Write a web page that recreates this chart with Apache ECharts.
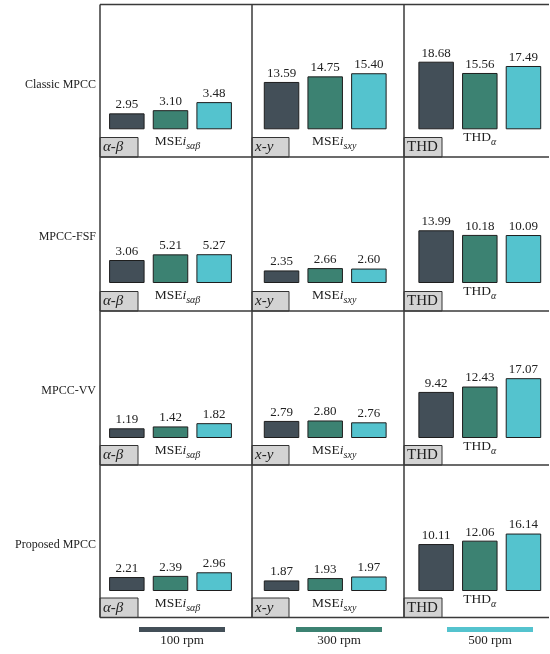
<!DOCTYPE html>
<html>
<head>
<meta charset="utf-8">
<script src="https://cdn.jsdelivr.net/npm/echarts@6/dist/echarts.min.js"></script>
<style>
  html, body { margin: 0; padding: 0; background: #fff; }
  #chart { width: 550px; height: 654px; }
</style>
</head>
<body>
<div id="chart"></div>
<script>
// Controllers compared in each row, motor speeds as series
const methods = ['Classic MPCC', 'MPCC-FSF', 'MPCC-VV', 'Proposed MPCC'];
const speeds = ['100 rpm', '300 rpm', '500 rpm'];
const frameTags = ['α-β', 'x-y', 'THD'];

// Per method: values at 100 / 300 / 500 rpm
const mseAlphaBeta = [[2.95, 3.10, 3.48], [3.06, 5.21, 5.27], [1.19, 1.42, 1.82], [2.21, 2.39, 2.96]];
const mseXY        = [[13.59, 14.75, 15.40], [2.35, 2.66, 2.60], [2.79, 2.80, 2.76], [1.87, 1.93, 1.97]];
const thdAlpha     = [[18.68, 15.56, 17.49], [13.99, 10.18, 10.09], [9.42, 12.43, 17.07], [10.11, 12.06, 16.14]];

// Value-axis extent of every panel [min, max], rows = methods, cols = metrics
const axisRange = [
  [[2.2, 7.7], [3.77, 28.0], [0, 32.27]],
  [[-5.68, 39.19], [0.667, 16.46], [-29.5, 67.86]],
  [[0, 14.6], [2.42, 5.0], [-16.2, 49.98]],
  [[0, 18.66], [1.6, 4.61], [-16.9, 50.96]]
];

const metricData = [mseAlphaBeta, mseXY, thdAlpha];
const metricRich = [
  '{m|MSE}{i|i}{s|sαβ}',
  '{m|MSE}{i|i}{s|sxy}',
  '{m|THD}{s|α}'
];

// Layout (pixels)
const FONT = "'Liberation Serif', 'DejaVu Serif', serif";
const colors = ['#434f58', '#3c8272', '#54c3ce'];
const rowTop = [4.5, 157, 311, 465];
const rowBottom = [157, 311, 465, 617.5];
const baseline = [129.3, 283, 438, 591];
const colLeft = [100, 252, 404];
const rightEdge = 549;
const groupLeft = [109, 263.7, 418.3];
const labelPad = [[0, 0, 0, 14], [0, 0, 0, 18], [0, 0, 0, 0]];
const labelMargin = [2, 2, -1.5];
const tagWidth = [38, 37, 38];

const grid = [], xAxis = [], yAxis = [], series = [];
for (let r = 0; r < methods.length; r++) {
  for (let c = 0; c < 3; c++) {
    const p = r * 3 + c;
    const top = rowTop[r] + 8;
    grid.push({
      left: groupLeft[c] - 4,
      width: 131,
      top: top,
      height: baseline[r] - top
    });
    xAxis.push({
      type: 'category',
      gridIndex: p,
      data: [metricRich[c]],
      axisLine: { show: false },
      axisTick: { show: false },
      axisLabel: {
        margin: labelMargin[c],
        padding: labelPad[c],
        rich: {
          m: { fontFamily: FONT, fontSize: 13.5, color: '#222', lineHeight: 20 },
          i: { fontFamily: FONT, fontSize: 13.5, fontStyle: 'italic', color: '#222', lineHeight: 20 },
          s: { fontFamily: FONT, fontSize: 10, fontStyle: 'italic', color: '#222', lineHeight: 13, verticalAlign: 'bottom' }
        }
      }
    });
    yAxis.push({
      type: 'value',
      gridIndex: p,
      min: axisRange[r][c][0],
      max: axisRange[r][c][1],
      startValue: axisRange[r][c][0],
      show: false,
      splitLine: { show: false }
    });
    for (let s = 0; s < speeds.length; s++) {
      series.push({
        type: 'bar',
        name: speeds[s],
        xAxisIndex: p,
        yAxisIndex: p,
        data: [metricData[c][r][s]],
        barWidth: 35.5,
        barGap: '23%',
        clip: true,
        itemStyle: { color: colors[s], borderColor: '#1e1e1e', borderWidth: 1 },
        label: {
          show: true,
          position: 'top',
          distance: 2,
          fontFamily: FONT,
          fontSize: 13,
          color: '#222',
          formatter: (d) => d.value.toFixed(2)
        }
      });
    }
  }
}

// Panel frame, frame tags and method names
const graphic = [];
for (let r = 0; r < methods.length; r++) {
  for (let c = 0; c < 3; c++) {
    graphic.push({
      type: 'rect', z: 10,
      shape: { x: colLeft[c], y: rowBottom[r] - 19.5, width: tagWidth[c], height: 19.5 },
      style: { fill: '#d3d3d3', stroke: '#333', lineWidth: 1 }
    });
    graphic.push({
      type: 'text', z: 11,
      style: {
        text: frameTags[c], x: colLeft[c] + 3, y: rowBottom[r] - 9.5,
        verticalAlign: 'middle', fill: '#222',
        font: (c < 2 ? 'italic ' : '') + '15px ' + FONT
      }
    });
  }
  graphic.push({
    type: 'text', z: 11,
    style: {
      text: methods[r], x: 96, y: rowTop[r] + 80,
      align: 'right', verticalAlign: 'middle', fill: '#222',
      font: '12px ' + FONT
    }
  });
}
[4.5, 157, 311, 465, 617.5].forEach(y => graphic.push({
  type: 'line', z: 12,
  shape: { x1: colLeft[0], y1: y, x2: rightEdge, y2: y },
  style: { stroke: '#3a3a3a', lineWidth: 1.5 }
}));
colLeft.forEach(x => graphic.push({
  type: 'line', z: 12,
  shape: { x1: x, y1: 4.5, x2: x, y2: 617.5 },
  style: { stroke: '#3a3a3a', lineWidth: 1.5 }
}));

// Speed legend: colour strip with its name underneath
const legendLeft = [139, 296, 447];
const legend = speeds.map((name, i) => ({
  data: [name],
  left: legendLeft[i],
  top: 627,
  icon: 'rect',
  itemWidth: 86,
  itemHeight: 5,
  itemGap: 0,
  padding: 0,
  itemStyle: { borderWidth: 0 },
  formatter: () => '',
  textStyle: { fontSize: 1 }
}));
speeds.forEach((name, i) => graphic.push({
  type: 'text', z: 11,
  style: {
    text: name, x: legendLeft[i] + 43, y: 641,
    align: 'center', verticalAlign: 'middle', fill: '#222',
    font: '13px ' + FONT
  }
}));

const chart = echarts.init(document.getElementById('chart'));
chart.setOption({
  animation: false,
  backgroundColor: '#fff',
  grid, xAxis, yAxis, series, legend, graphic
});
</script>
</body>
</html>
